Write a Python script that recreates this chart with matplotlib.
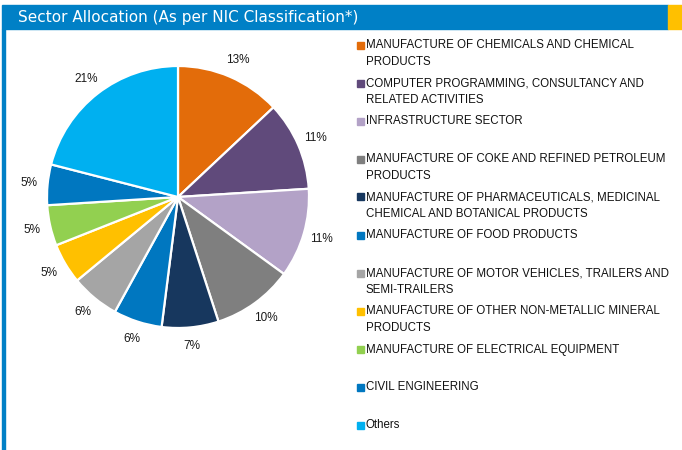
import matplotlib.pyplot as plt
from matplotlib.patches import Rectangle

# Sector weights (%), clockwise from 12 o'clock
sectors = [
    'MANUFACTURE OF CHEMICALS AND CHEMICAL\nPRODUCTS',
    'COMPUTER PROGRAMMING, CONSULTANCY AND\nRELATED ACTIVITIES',
    'INFRASTRUCTURE SECTOR',
    'MANUFACTURE OF COKE AND REFINED PETROLEUM\nPRODUCTS',
    'MANUFACTURE OF PHARMACEUTICALS, MEDICINAL\nCHEMICAL AND BOTANICAL PRODUCTS',
    'MANUFACTURE OF FOOD PRODUCTS',
    'MANUFACTURE OF MOTOR VEHICLES, TRAILERS AND\nSEMI-TRAILERS',
    'MANUFACTURE OF OTHER NON-METALLIC MINERAL\nPRODUCTS',
    'MANUFACTURE OF ELECTRICAL EQUIPMENT',
    'CIVIL ENGINEERING',
    'Others',
]
weights = [13, 11, 11, 10, 7, 6, 6, 5, 5, 5, 21]
colors = ['#E36C0A', '#604A7B', '#B3A2C7', '#7F7F7F', '#17375E', '#0077C0',
          '#A5A5A5', '#FFC000', '#92D050', '#0077C0', '#00B0F0']

plt.rcParams['font.family'] = ['Liberation Sans', 'DejaVu Sans']

W, H = 682, 450
fig = plt.figure(figsize=(W / 100, H / 100), dpi=100)

# header band + yellow tab + left rule
fig.patches.append(Rectangle((2 / W, 1 - 29 / H), 666 / W, 24 / H,
                             transform=fig.transFigure, color='#0080C6', zorder=0))
fig.patches.append(Rectangle((668 / W, 1 - 29 / H), 14 / W, 24 / H,
                             transform=fig.transFigure, color='#FFC000', zorder=0))
fig.patches.append(Rectangle((2 / W, 0), 2.5 / W, 1 - 29 / H,
                             transform=fig.transFigure, color='#0080C6', zorder=0))
fig.text(18 / W, 1 - 17.5 / H, 'Sector Allocation (As per NIC Classification*)',
         color='white', fontsize=11, va='center', ha='left',
         family=['DejaVu Sans'])

# pie
cx, cy, r = 178, 197, 131
ax = fig.add_axes([(cx - r) / W, (H - cy - r) / H, 2 * r / W, 2 * r / H])
ax.pie(weights, colors=colors, startangle=90, counterclock=False,
       autopct='%d%%', pctdistance=1.14, radius=1,
       wedgeprops=dict(edgecolor='white', linewidth=1.6),
       textprops=dict(fontsize=8.5, color='#1a1a1a'))
ax.set_xlim(-1, 1)
ax.set_ylim(-1, 1)
ax.set_aspect('equal')
ax.axis('off')

# legend, one entry every 38 px
for i, (name, c) in enumerate(zip(sectors, colors)):
    y = 45 + 38 * i
    fig.patches.append(Rectangle((357 / W, 1 - (y + 3.5) / H), 7 / W, 7 / H,
                                 transform=fig.transFigure, color=c))
    fig.text(366 / W, 1 - (y - 5.5) / H, name, fontsize=8.3, va='top', ha='left',
             color='#111111', linespacing=1.45)

plt.savefig('out.png', dpi=100)
